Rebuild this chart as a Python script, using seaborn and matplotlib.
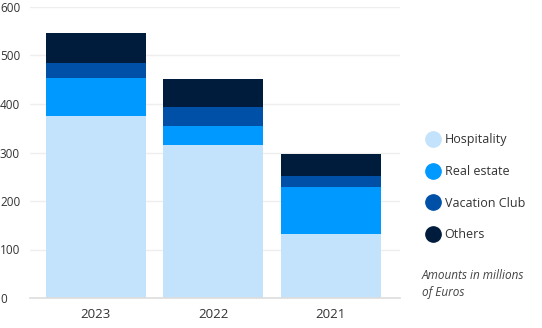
import matplotlib
matplotlib.use("Agg")
import matplotlib.pyplot as plt
import seaborn as sns
import numpy as np
import pandas as pd
from matplotlib.lines import Line2D

years = ["2023", "2022", "2021"]
hospitality = [375, 315, 131]
real_estate = [78, 39, 97]
vacation_club = [31, 39, 23]
others = [62, 59, 45]
series_names = ["Hospitality", "Real estate", "Vacation Club", "Others"]
colors = ["#c3e2fb", "#0099ff", "#0050a8", "#001c3d"]
yticks = [0, 100, 200, 300, 400, 500, 600]

sns.set_theme(style="white")
plt.rcParams["font.family"] = ["Open Sans", "DejaVu Sans"]

fig = plt.figure(figsize=(5.42, 3.28), dpi=100)
ax = fig.add_axes([30/542, 30/328, 370/542, 291/328])

layers = [hospitality, real_estate, vacation_club, others]
cum = np.cumsum(np.array(layers), axis=0)
for i in range(len(layers) - 1, -1, -1):
    df = pd.DataFrame({"year": years, "value": cum[i]})
    sns.barplot(data=df, x="year", y="value", color=colors[i], width=0.85,
                saturation=1, ax=ax, order=years, linewidth=0)

ax.set_xlim(-0.56, 2.59)
ax.set_ylim(0, 600)
ax.set_yticks(yticks)
ax.set_xlabel("")
ax.set_ylabel("")
ax.yaxis.grid(True, color="#eeeeee", linewidth=1)
ax.set_axisbelow(True)
for s in ["top", "right", "left"]:
    ax.spines[s].set_visible(False)
ax.spines["bottom"].set_color("#dddddd")
ax.spines["bottom"].set_linewidth(1.2)
ax.tick_params(axis="y", length=0, labelsize=8.5, labelcolor="#333333", pad=21.6)
ax.tick_params(axis="x", length=0, labelsize=9.5, labelcolor="#333333", pad=7)
for lab in ax.get_yticklabels():
    lab.set_horizontalalignment("left")

handles = [Line2D([0], [0], marker="o", linestyle="", markersize=11,
                  markerfacecolor=c, markeredgecolor=c) for c in colors]
fig.legend(handles, series_names, loc="upper left", bbox_to_anchor=(419/542, 1 - 127/328),
           frameon=False, fontsize=9, labelspacing=1.5, handletextpad=0.35,
           borderpad=0, handlelength=1.2, labelcolor="#333333")

fig.text(422/542, 1 - 284/328, "Amounts in millions\nof Euros", fontsize=8.5,
         style="italic", color="#444444", va="center", ha="left", linespacing=1.45)

fig.savefig("out.png", dpi=100)
